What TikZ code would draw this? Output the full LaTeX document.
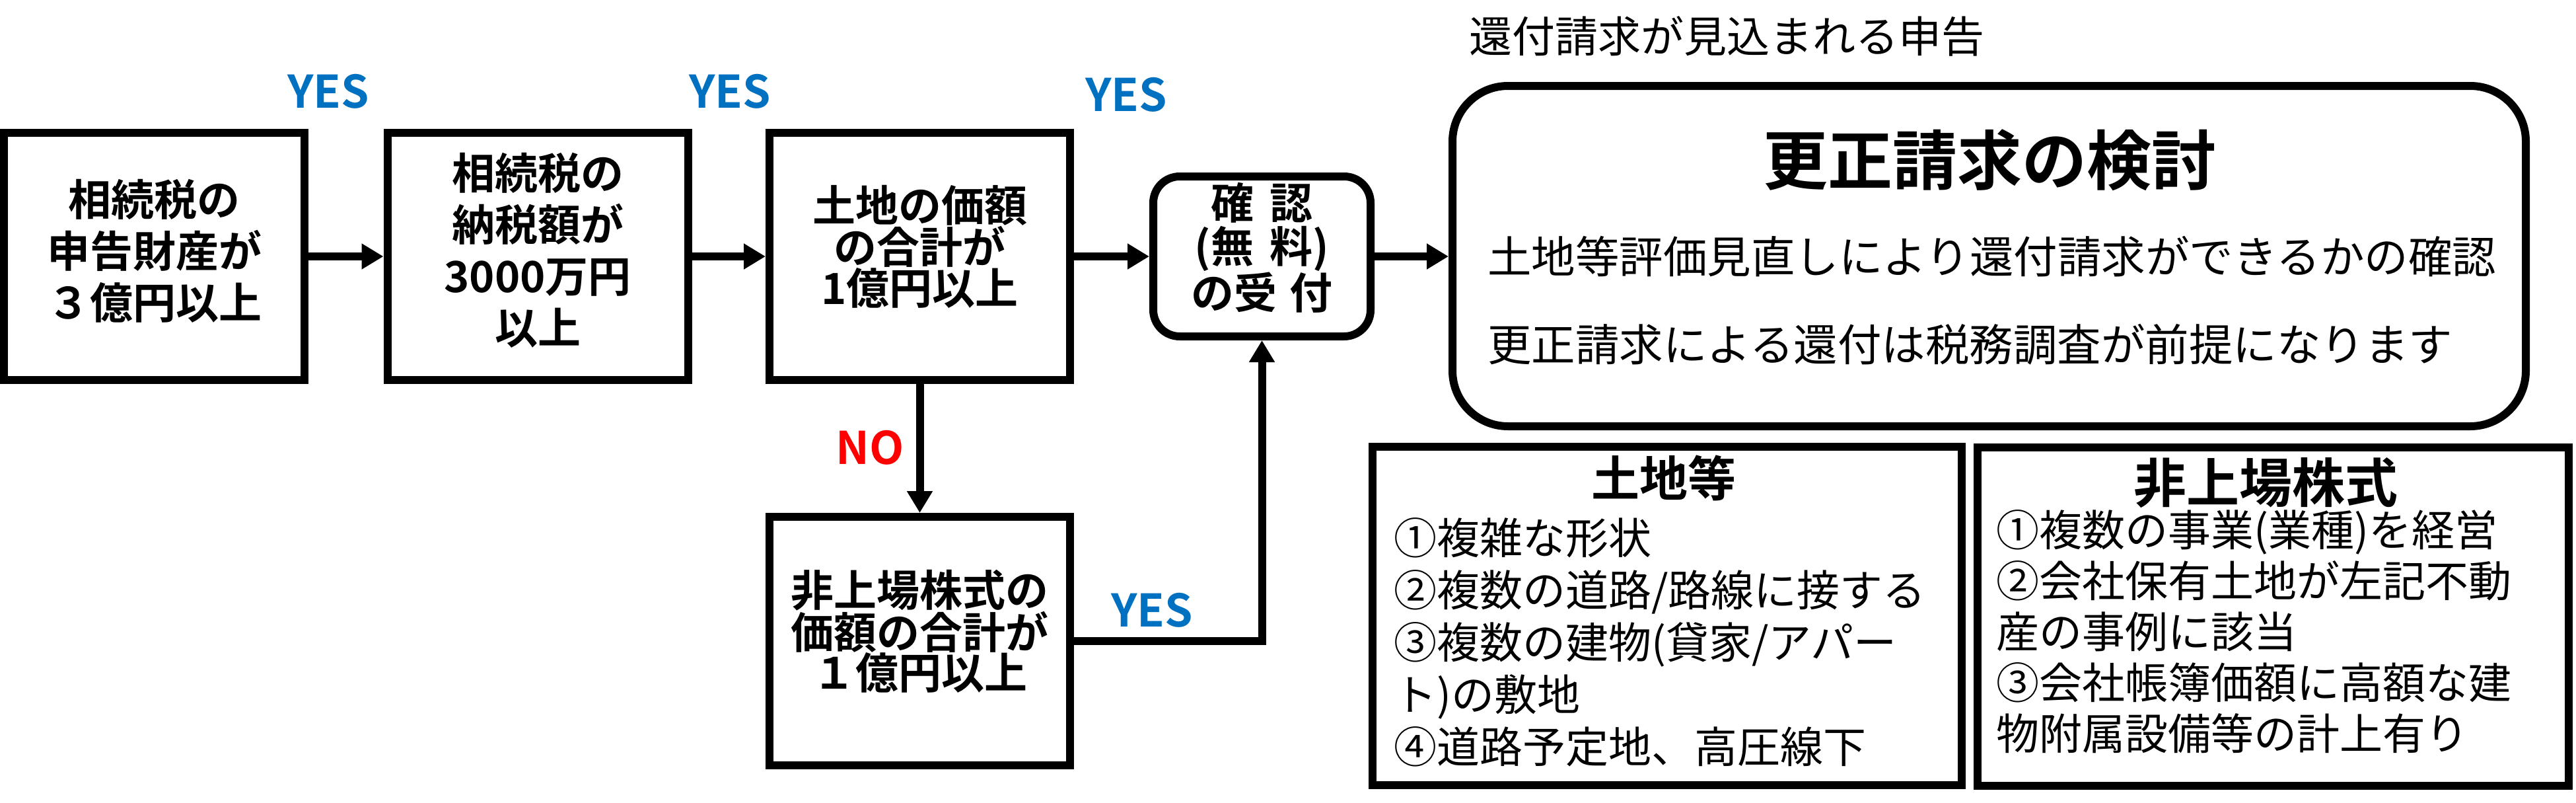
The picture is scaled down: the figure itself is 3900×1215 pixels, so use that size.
\documentclass[tikz,border=0pt]{standalone}
\usepackage{fontspec}
\setmainfont{Noto Sans CJK JP}[BoldFont={Noto Sans CJK JP Bold}]
\usetikzlibrary{arrows.meta}
\definecolor{yesblue}{HTML}{0070C0}
\definecolor{nored}{HTML}{FF0000}
\begin{document}
\begin{tikzpicture}[x=1pt,y=-1pt,
  box/.style={draw, line width=12pt, inner sep=0pt, minimum width=455pt, minimum height=374pt},
  btext/.style={inner sep=0pt, align=center, font=\bfseries\fontsize{65}{78}\selectfont},
  body/.style={inner sep=0pt, anchor=base west, font=\fontsize{65}{78}\selectfont},
  yeslab/.style={inner sep=0pt, anchor=base, text=yesblue, font=\bfseries\fontsize{68}{80}\selectfont},
  nolab/.style={inner sep=0pt, anchor=base, text=nored, font=\bfseries\fontsize{68}{80}\selectfont},
  conn/.style={line width=12pt, -{Triangle[length=33pt,width=37pt]}}
]
\useasboundingbox (0,0) rectangle (3900,1215);

% flow boxes
\node[box] (b1) at (233.5,388) {};
\node[box] (b2) at (814,388) {};
\node[box] (b3) at (1392.5,388) {};
\node[box, minimum height=376pt] (b5) at (1392.5,970) {};
\node[draw, line width=12pt, inner sep=0pt, minimum width=329pt, minimum height=242pt, rounded corners=40pt] (b4) at (1910.5,388) {};
\node[draw, line width=12pt, inner sep=0pt, minimum width=1625pt, minimum height=515pt, rounded corners=84pt] (big) at (3011.5,387.5) {};
\node[draw, line width=12pt, inner sep=0pt, minimum width=892pt, minimum height=512pt] (land) at (2524,932) {};
\node[draw, line width=12pt, inner sep=0pt, minimum width=895pt, minimum height=512pt] (stock) at (3441.5,933) {};

% box texts
\node[btext] (t1) at (233.5,380) {相続税の\\申告財産が\\３億円以上};
\node[btext] (t2) at (814,379) {相続税の\\納税額が\\3000万円\\以上};
\node[btext, font=\bfseries\fontsize{65}{62}\selectfont] (t3) at (1392.5,373) {土地の価額\\の合計が\\1億円以上};
\node[btext, font=\bfseries\fontsize{65}{61}\selectfont] (t5) at (1392.5,955) {非上場株式の\\価額の合計が\\１億円以上};
\node[btext, font=\bfseries\fontsize{65}{66}\selectfont] (t4) at (1910.5,375) {確\hspace{24pt}認\\(無\hspace{24pt}料)\\の受\hspace{20pt}付};

% connectors
\draw[conn] (b1) -- (b2);
\draw[conn] (b2) -- (b3);
\draw[conn] (b3) -- (b4);
\draw[conn] (b4.east) -- (b4.east -| big.west);
\draw[conn] (b3) -- (b5);
\draw[conn] (b5.east) -| (b4.south);

% labels
\node[yeslab] (y1) at (497,163) {YES};
\node[yeslab] (y2) at (1105,163) {YES};
\node[yeslab] (y3) at (1705,168) {YES};
\node[yeslab] (y4) at (1744,948) {YES};
\node[nolab] (n1) at (1317,702) {NO};

% top label
\node[body] (top) at (2224,80) {還付請求が見込まれる申告};

% big box contents
\node[inner sep=0pt, anchor=base, font=\bfseries\fontsize{98}{110}\selectfont] (bt) at (3012,279) {更正請求の検討};
\node[body, font=\fontsize{66.5}{80}\selectfont] (bl1) at (2252,413) {土地等評価見直しにより還付請求ができるかの確認};
\node[body, font=\fontsize{66.5}{80}\selectfont] (bl2) at (2252,546) {更正請求による還付は税務調査が前提になります};

% land box
\node[inner sep=0pt, anchor=base, font=\bfseries\fontsize{73}{80}\selectfont] (lt) at (2519,751) {土地等};
\node[body] (la1) at (2110,838) {①複雑な形状};
\node[body] (la2) at (2110,917) {②複数の道路/路線に接する};
\node[body] (la3) at (2110,996) {③複数の建物(貸家/アパー};
\node[body] (la4) at (2110,1075) {ト)の敷地};
\node[body] (la5) at (2110,1154) {④道路予定地、高圧線下};

% stock box
\node[inner sep=0pt, anchor=base, font=\bfseries\fontsize{80}{88}\selectfont] (st) at (3430,760) {非上場株式};
\node[body] (sa1) at (3022,826) {①複数の事業(業種)を経営};
\node[body] (sa2) at (3022,903) {②会社保有土地が左記不動};
\node[body] (sa3) at (3022,980) {産の事例に該当};
\node[body] (sa4) at (3022,1057) {③会社帳簿価額に高額な建};
\node[body] (sa5) at (3022,1134) {物附属設備等の計上有り};
\end{tikzpicture}
\end{document}
